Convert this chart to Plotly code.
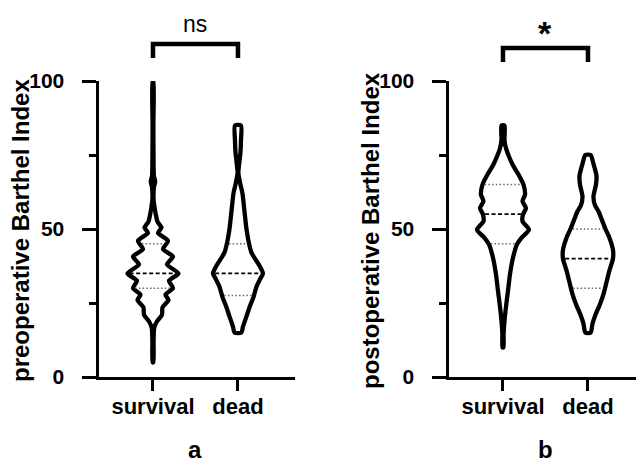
import numpy as np
import plotly.graph_objects as go

# ---------------- data ----------------
categories = ["survival", "dead"]
y_ticks = [0, 50, 100]
y_minor_ticks = [25, 75]
panel_labels = ["a", "b"]
y_titles = ["preoperative Barthel Index", "postoperative Barthel Index"]
significance = ["ns", "*"]

# violin outlines: Barthel index values and relative KDE density at each value
pre_survival_y = [100, 85, 72, 68, 66, 64, 60, 57.5, 55, 52.5, 50.5, 48.7, 46, 43.2,
                  40.7, 38, 35, 32.5, 30, 27.8, 26, 23.5, 21, 18.5, 16.5, 12, 5]
pre_survival_d = [0.4, 0.4, 0.6, 0.9, 2.2, 0.9, 0.6, 1.5, 2.8, 4.5, 8.5, 5, 15, 10,
                  20, 14, 25.5, 16, 20, 12.5, 15.5, 9.5, 9, 3.5, 1.2, 0.6, 0.4]
pre_dead_y = [85, 80, 76, 72, 69, 65, 62, 56, 50, 46, 42, 39.5, 37, 35, 33, 30.5,
              27, 24, 20.5, 17, 15]
pre_dead_d = [3, 3, 2.5, 1.2, 0.4, 2.5, 4.5, 6.5, 8.5, 10.5, 13.5, 18, 22.5, 25,
              22, 18.5, 15.5, 12, 8.5, 5, 3.5]
post_survival_y = [85, 80, 77.3, 74.5, 71.7, 68.4, 65, 61.6, 59.4, 57.1, 54.9, 52.6,
                   49.8, 47, 44.8, 40.3, 34.7, 29.1, 24.6, 19, 14.5, 10]
post_survival_d = [1.5, 1.5, 3, 6, 9.7, 15.5, 20.5, 22, 19.5, 23, 20, 19.5, 26, 18.5,
                   14, 10, 7, 5, 3.3, 1.5, 0.6, 0.5]
post_dead_y = [75, 72, 68, 65, 61, 58, 56, 53, 50, 47, 43, 40, 36, 32, 28, 24.6,
               21, 18, 15]
post_dead_d = [2.7, 5.5, 8.5, 8, 5.5, 7, 10.5, 14, 17.5, 21.5, 25, 25, 21.5, 18.5,
               15.5, 12, 7.5, 4.5, 2.7]

# quartiles (Q1, median, Q3)
pre_survival_q = [30, 35, 45]
pre_dead_q = [27.5, 35, 45]
post_survival_q = [45, 55, 65]
post_dead_q = [30, 40, 50]

# ---------------- style ----------------
W, H = 636, 464
FONT = "Liberation Sans, Arial, sans-serif"
DENS_TO_X = 1 / 85.0          # density units -> category units
LINE_INSET = 2.2 / 85.0       # keep quartile lines inside the stroke

fig = go.Figure()

# panel geometry (paper fractions)
x_domains = [[98.5 / W, 295 / W], [448.5 / W, 1.0]]
x_ranges = [[-0.641, 1.671], [-0.641, 1.565]]
y_domain = [1 - 377 / H, 1 - 81 / H]


def add_violin(center, ys, dens, quart, xa, ya):
    ys = np.asarray(ys, float)
    hw = np.asarray(dens, float) * DENS_TO_X
    order = np.argsort(ys)
    xs = np.concatenate([center + hw, (center - hw)[::-1], [center + hw[0]]])
    yy = np.concatenate([ys, ys[::-1], [ys[0]]])
    fig.add_trace(go.Scatter(
        x=xs, y=yy, mode="lines", fill="toself", fillcolor="white",
        line=dict(color="black", width=4.3, shape="spline", smoothing=0.6),
        xaxis=xa, yaxis=ya, hoverinfo="skip", showlegend=False))
    for i, q in enumerate(quart):
        w = max(np.interp(q, ys[order], hw[order]) - LINE_INSET, 0.01)
        if i == 1:
            ln = dict(color="black", width=1.8, dash="4px,2.5px")
        else:
            ln = dict(color="#666666", width=1.5, dash="1.5px,2.2px")
        fig.add_trace(go.Scatter(
            x=[center - w, center + w], y=[q, q], mode="lines", line=ln,
            xaxis=xa, yaxis=ya, hoverinfo="skip", showlegend=False))


add_violin(0, pre_survival_y, pre_survival_d, pre_survival_q, "x", "y")
add_violin(1, pre_dead_y, pre_dead_d, pre_dead_q, "x", "y")
add_violin(0, post_survival_y, post_survival_d, post_survival_q, "x2", "y2")
add_violin(1, post_dead_y, post_dead_d, post_dead_q, "x2", "y2")

xaxis_common = dict(
    tickvals=[0, 1], ticktext=categories, showline=True, linecolor="black",
    linewidth=3, ticks="outside", ticklen=11, tickwidth=3, tickcolor="black",
    showgrid=False, zeroline=False, fixedrange=True, automargin=False,
    ticklabelstandoff=-3,
    tickfont=dict(family=FONT, size=22, color="black", weight="bold"))
yaxis_common = dict(
    range=[0, 100], tickvals=y_ticks, showline=True, linecolor="black",
    linewidth=3, ticks="outside", ticklen=14, tickwidth=3, tickcolor="black",
    showgrid=False, zeroline=False, domain=y_domain, fixedrange=True,
    automargin=False, ticklabelstandoff=13,
    minor=dict(tickvals=y_minor_ticks, ticks="outside", ticklen=7, tickwidth=3,
               tickcolor="black", showgrid=False),
    tickfont=dict(family=FONT, size=21, color="black", weight="bold"))

fig.update_layout(
    width=W, height=H, margin=dict(l=0, r=0, t=0, b=0, pad=0, autoexpand=False),
    paper_bgcolor="white", plot_bgcolor="white", showlegend=False,
    xaxis=dict(domain=x_domains[0], range=x_ranges[0], anchor="y", **xaxis_common),
    yaxis=dict(anchor="x", **yaxis_common),
    xaxis2=dict(domain=x_domains[1], range=x_ranges[1], anchor="y2", **xaxis_common),
    yaxis2=dict(anchor="x2", **yaxis_common),
)


def data_to_paper(i, x):
    r0, r1 = x_ranges[i]
    d0, d1 = x_domains[i]
    return d0 + (x - r0) / (r1 - r0) * (d1 - d0)


# significance brackets
bracket_top = [44, 48]
bracket_bot = [58, 62]
shapes = []
for i in range(2):
    xl, xr = data_to_paper(i, 0), data_to_paper(i, 1)
    yt, yb = 1 - bracket_top[i] / H, 1 - bracket_bot[i] / H
    shapes.append(dict(type="path", xref="paper", yref="paper",
                       path=f"M {xl},{yb} L {xl},{yt} L {xr},{yt} L {xr},{yb}",
                       line=dict(color="black", width=4.5)))
fig.update_layout(shapes=shapes)

ann = []
# significance text
ann.append(dict(text=significance[0], x=data_to_paper(0, 0.5), y=1 - 24 / H,
                xref="paper", yref="paper", showarrow=False, xanchor="center",
                yanchor="middle", font=dict(family=FONT, size=23, color="black")))
ann.append(dict(text=significance[1], x=data_to_paper(1, 0.5), y=1 - 33 / H,
                xref="paper", yref="paper", showarrow=False, xanchor="center",
                yanchor="middle", font=dict(family=FONT, size=34, color="black",
                                            weight="bold")))
# y titles
for i, xpix in enumerate([21, 371]):
    ann.append(dict(text=y_titles[i], x=xpix / W, y=1 - 231 / H, xref="paper",
                    yref="paper", showarrow=False, textangle=-90, xanchor="center",
                    yanchor="middle",
                    font=dict(family=FONT, size=24, color="black", weight="bold")))
# panel labels
for i in range(2):
    ann.append(dict(text=panel_labels[i], x=data_to_paper(i, 0.5), y=0,
                    xref="paper", yref="paper", showarrow=False, xanchor="center",
                    yanchor="bottom", borderpad=0,
                    font=dict(family=FONT, size=24, color="black", weight="bold")))
fig.update_layout(annotations=ann)

fig.write_html("out.html", config={"displayModeBar": False},
               post_script="document.body.style.margin='0px';"
                           "document.body.style.overflow='hidden';")
